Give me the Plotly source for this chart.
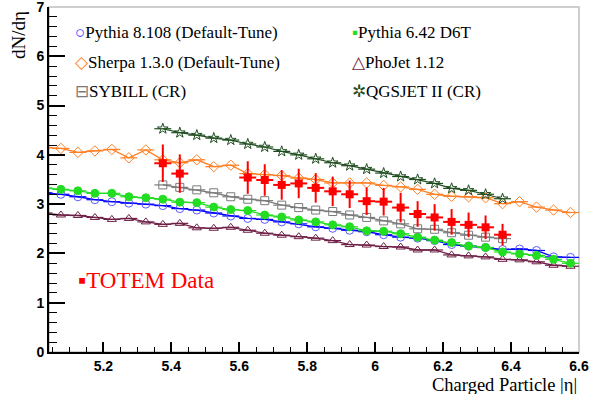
import plotly.graph_objects as go

# bin centres (|eta|)
eta_full = [5.025, 5.075, 5.125, 5.175, 5.225, 5.275, 5.325, 5.375, 5.425, 5.475,
            5.525, 5.575, 5.625, 5.675, 5.725, 5.775, 5.825, 5.875, 5.925, 5.975,
            6.025, 6.075, 6.125, 6.175, 6.225, 6.275, 6.325, 6.375, 6.425, 6.475,
            6.525, 6.575]
eta_cr = [5.375, 5.425, 5.475, 5.525, 5.575, 5.625, 5.675, 5.725, 5.775, 5.825,
          5.875, 5.925, 5.975, 6.025, 6.075, 6.125, 6.175, 6.225, 6.275, 6.325, 6.375]
eta_data = [5.375, 5.425, 5.625, 5.675, 5.725, 5.775, 5.825, 5.875, 5.925, 5.975,
            6.025, 6.075, 6.125, 6.175, 6.225, 6.275, 6.325, 6.375]

pythia8 = [3.23, 3.20, 3.15, 3.09, 3.05, 3.02, 3.00, 2.97, 2.91, 2.88,
           2.82, 2.76, 2.71, 2.69, 2.64, 2.60, 2.54, 2.51, 2.47, 2.44,
           2.38, 2.33, 2.31, 2.26, 2.18, 2.15, 2.12, 2.08, 2.09, 2.06,
           1.93, 1.92]
pythia6 = [3.33, 3.30, 3.27, 3.22, 3.22, 3.15, 3.13, 3.10, 3.04, 3.03,
           2.94, 2.89, 2.87, 2.78, 2.74, 2.68, 2.64, 2.58, 2.54, 2.46,
           2.45, 2.40, 2.33, 2.27, 2.22, 2.15, 2.12, 2.03, 1.99, 1.96,
           1.88, 1.80]
sherpa = [4.15, 4.13, 4.05, 4.08, 4.11, 3.94, 4.10, 3.90, 3.84, 3.90,
          3.76, 3.79, 3.62, 3.60, 3.58, 3.53, 3.50, 3.43, 3.43, 3.43,
          3.38, 3.35, 3.30, 3.20, 3.16, 3.15, 3.13, 3.01, 3.05, 2.94,
          2.88, 2.83]
phojet = [2.82, 2.78, 2.77, 2.73, 2.69, 2.71, 2.64, 2.59, 2.61, 2.52,
          2.51, 2.53, 2.47, 2.41, 2.37, 2.34, 2.31, 2.26, 2.18, 2.17,
          2.14, 2.13, 2.07, 2.07, 1.97, 1.95, 1.93, 1.88, 1.87, 1.83,
          1.76, 1.74]
sybill = [3.39, 3.34, 3.29, 3.23, 3.15, 3.10, 3.07, 2.98, 2.93, 2.88,
          2.85, 2.78, 2.73, 2.66, 2.60, 2.50, 2.49, 2.42, 2.37, 2.33, 2.30]
qgsjet = [4.53, 4.45, 4.40, 4.34, 4.30, 4.22, 4.16, 4.07, 4.00, 3.92,
          3.84, 3.78, 3.71, 3.63, 3.56, 3.50, 3.42, 3.32, 3.28, 3.20, 3.11]
totem = [3.83, 3.62, 3.54, 3.49, 3.39, 3.42, 3.33, 3.26, 3.20, 3.06,
         3.05, 2.93, 2.80, 2.73, 2.64, 2.58, 2.53, 2.38]
totem_err = [0.38, 0.39, 0.33, 0.32, 0.30, 0.30, 0.30, 0.30, 0.28, 0.28,
             0.28, 0.30, 0.26, 0.27, 0.26, 0.25, 0.24, 0.22]
half_bin = 0.025

fig = go.Figure()

def model(x, y, color, symbol, size=7, lw=1.3, mcolor=None):
    fig.add_trace(go.Scatter(
        x=x, y=y, mode="lines+markers", showlegend=False,
        line=dict(color=color, width=lw),
        marker=dict(symbol=symbol, size=size, color=mcolor or color,
                    line=dict(color=mcolor or color, width=1)),
        error_x=dict(type="constant", value=half_bin, color=color, thickness=1.2, width=0),
        cliponaxis=True,
    ))

model(eta_full, phojet, "#6e1f45", "triangle-up-open", 8)
model(eta_full, pythia8, "#0000ff", "circle-open", 8, mcolor="#5a5aff")
model(eta_full, pythia6, "#22dd22", "circle", 8)
model(eta_cr, sybill, "#7a7a7a", "square-open", 8)
model(eta_full, sherpa, "#ff7f24", "diamond-open", 8)
model(eta_cr, qgsjet, "#1f4d1f", "star-open", 8, lw=1.2)

fig.add_trace(go.Scatter(
    x=eta_data, y=totem, mode="markers", showlegend=False,
    marker=dict(symbol="square", size=8, color="#ff0000"),
    error_y=dict(type="data", array=totem_err, color="#ff0000", thickness=2, width=0),
    error_x=dict(type="constant", value=half_bin, color="#ff0000", thickness=2, width=0),
))

# legend as text annotations (ROOT-style)
leg_font = dict(family="Liberation Serif", size=17, color="black")
legend_left = [
    ("<span style='color:#3030ff'>○</span>Pythia 8.108 (Default-Tune)", 6.49),
    ("<span style='color:#ff7f24'>◇</span>Sherpa 1.3.0 (Default-Tune)", 5.88),
    ("<span style='color:#7a7a7a'>⊟</span>SYBILL (CR)", 5.29),
]
legend_right = [
    ("<span style='color:#22dd22'>▪</span>Pythia 6.42 D6T", 6.49),
    ("<span style='color:#6e1f45'>△</span>PhoJet 1.12", 5.88),
    ("<span style='color:#1f4d1f'>✲</span>QGSJET II (CR)", 5.29),
]
for txt, yy in legend_left:
    fig.add_annotation(x=5.112, y=yy, xref="x", yref="y", text=txt, showarrow=False,
                       xanchor="left", yanchor="middle", font=leg_font)
for txt, yy in legend_right:
    fig.add_annotation(x=5.925, y=yy, xref="x", yref="y", text=txt, showarrow=False,
                       xanchor="left", yanchor="middle", font=leg_font)
fig.add_annotation(x=5.12, y=1.46, xref="x", yref="y",
                   text="▪TOTEM Data", showarrow=False, xanchor="left", yanchor="middle",
                   font=dict(family="Liberation Serif", size=23, color="#ff0000"))

# axis titles
fig.add_annotation(x=-0.058, y=0.995, xref="paper", yref="paper", text="dN/dη",
                   textangle=-90, showarrow=False, xanchor="center", yanchor="top",
                   font=dict(family="Liberation Serif", size=19, color="black"))
fig.add_annotation(x=1.0, y=-0.062, xref="paper", yref="paper", text="Charged Particle |η|",
                   showarrow=False, xanchor="right", yanchor="top",
                   font=dict(family="Liberation Serif", size=18.5, color="black"))

# frame
fig.add_shape(type="rect", xref="paper", yref="paper", x0=0, y0=0, x1=1, y1=1,
              line=dict(color="#c0c0c0", width=1.5), layer="below")

tickfont = dict(family="Liberation Sans", size=14, color="black", weight="bold")
fig.update_xaxes(range=[5.04, 6.6], tickvals=[5.2, 5.4, 5.6, 5.8, 6.0, 6.2, 6.4, 6.6],
                 ticktext=["5.2", "5.4", "5.6", "5.8", "6", "6.2", "6.4", "6.6"],
                 ticks="inside", ticklen=10, tickwidth=1.5, tickcolor="black",
                 minor=dict(dtick=0.05, tick0=5.0, ticks="inside", ticklen=5, tickwidth=1.2,
                            tickcolor="black", showgrid=False),
                 showline=True, linecolor="black", linewidth=2, showgrid=False,
                 zeroline=False, tickfont=tickfont, automargin=False,
                 ticklabeloverflow="allow")
fig.update_yaxes(range=[0, 7], tickvals=[0, 1, 2, 3, 4, 5, 6, 7],
                 ticks="inside", ticklen=16, tickwidth=2, tickcolor="black",
                 minor=dict(dtick=0.2, tick0=0, ticks="inside", ticklen=8, tickwidth=1.2,
                            tickcolor="black", showgrid=False),
                 showline=True, linecolor="black", linewidth=2, showgrid=False,
                 zeroline=False, tickfont=tickfont, automargin=False,
                 ticklabeloverflow="allow")

fig.update_layout(width=590, height=394, margin=dict(l=49, r=11, t=7, b=42),
                  plot_bgcolor="white", paper_bgcolor="white", showlegend=False)

fig.write_html("out.html", config={"displayModeBar": False},
               post_script="document.body.style.margin='0';document.body.style.padding='0';")
